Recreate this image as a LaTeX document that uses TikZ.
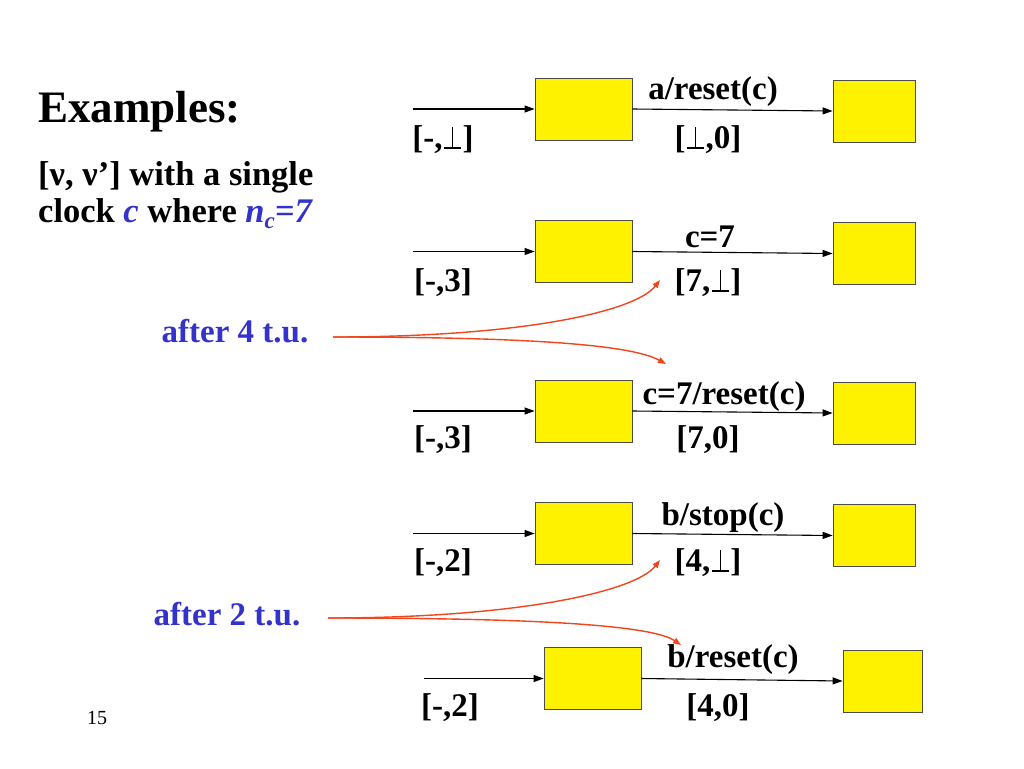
\documentclass[tikz,border=0pt]{standalone}
\usepackage{fontspec}
\setmainfont{Liberation Serif}
\usetikzlibrary{positioning, arrows.meta, calc}
\definecolor{slideblue}{RGB}{51,51,204}
\definecolor{hintred}{RGB}{240,70,30}
\newcommand{\undef}{\hspace{0.04em}\makebox[0.52em][l]{\rlap{\rule{0.52em}{0.045em}}\hspace{0.2375em}\rule{0.045em}{0.66em}}\hspace{0.04em}}

\begin{document}
\begin{tikzpicture}[x=1pt, y=-1pt,
    state/.style={draw=black!70, fill=yellow, line width=0.8pt, minimum width=97pt, minimum height=62pt, inner sep=0},
    target/.style={state, minimum width=82pt},
    edge/.style={line width=1.1pt, -{Triangle[length=10pt, width=7pt]}},
    hint/.style={line width=1.4pt, hintred, -{Triangle[length=8pt, width=6pt]}},
    lbl/.style={font=\fontsize{33}{36}\selectfont\bfseries, inner sep=0}]
    \fill[white] (0,0) rectangle (1024,768);
    \useasboundingbox (0,0) rectangle (1024,768);
    % Heading
    \node[anchor=base west, inner sep=0, font=\fontsize{45}{50}\selectfont\bfseries] (title) at (38,122) {Examples:};
    \node[lbl, font=\fontsize{34.5}{38}\selectfont\bfseries, anchor=base west] (intro1) at (38,185) {[ν, ν’] with a single};
    \node[lbl, font=\fontsize{34.5}{38}\selectfont\bfseries, anchor=base west] (intro2) at (38,222) {clock \textcolor{slideblue}{\textit{c}} where \textcolor{slideblue}{\textit{n}\raisebox{-6pt}{\fontsize{23}{23}\selectfont\textit{c}}\textit{=7}}};
    % a/reset(c)
    \node[state] (s1) at (583.5,109) {};
    \node[target] (t1) at (874,111) {};
    \coordinate[left=122pt of s1.west] (in1);
    \draw[edge] (in1) -- (s1.west);
    \draw[edge] (s1.east) -- (t1.west);
    \node[lbl] (e1) at (713,92) {a/reset(c)};
    \node[lbl] (v1) at (443,140) {[-,\undef]};
    \node[lbl] (w1) at (708,140) {[\undef,0]};
    % c=7
    \node[state] (s2) at (583.5,251.5) {};
    \node[target] (t2) at (874,253.5) {};
    \coordinate[left=122pt of s2.west] (in2);
    \draw[edge] (in2) -- (s2.west);
    \draw[edge] (s2.east) -- (t2.west);
    \node[lbl] (e2) at (710,237) {c=7};
    \node[lbl] (v2) at (443,283) {[-,3]};
    \node[lbl] (w2) at (708,283) {[7,\undef]};
    % c=7/reset(c)
    \node[state] (s3) at (583.5,411) {};
    \node[target] (t3) at (874,413) {};
    \coordinate[left=122pt of s3.west] (in3);
    \draw[edge] (in3) -- (s3.west);
    \draw[edge] (s3.east) -- (t3.west);
    \node[lbl] (e3) at (724,397) {c=7/reset(c)};
    \node[lbl] (v3) at (443,440) {[-,3]};
    \node[lbl] (w3) at (708,440) {[7,0]};
    % b/stop(c)
    \node[state] (s4) at (583.5,533.5) {};
    \node[target] (t4) at (874,535.5) {};
    \coordinate[left=122pt of s4.west] (in4);
    \draw[edge] (in4) -- (s4.west);
    \draw[edge] (s4.east) -- (t4.west);
    \node[lbl] (e4) at (723,518) {b/stop(c)};
    \node[lbl] (v4) at (443,563) {[-,2]};
    \node[lbl] (w4) at (708,563) {[4,\undef]};
    % b/reset(c)
    \node[state] (s5) at (592.5,678.5) {};
    \node[target, minimum width=79pt] (t5) at (882.5,681) {};
    \coordinate[left=120pt of s5.west] (in5);
    \draw[edge] (in5) -- (s5.west);
    \draw[edge] (s5.east) -- (t5.west);
    \node[lbl] (e5) at (733,660) {b/reset(c)};
    \node[lbl] (v5) at (450,708) {[-,2]};
    \node[lbl] (w5) at (718,708) {[4,0]};
    % Elapsed time
    \node[lbl, text=slideblue] (after4) at (235,331) {after 4 t.u.};
    \coordinate (from4) at (333,337);
    \coordinate (to4a) at (660,280);
    \coordinate (to4b) at (666,364);
    \draw[hint] (from4) .. controls (520,337) and (635,312) .. (to4a);
    \draw[hint] (from4) .. controls (520,337) and (630,344) .. (to4b);
    \node[lbl, text=slideblue] (after2) at (227,614) {after 2 t.u.};
    \coordinate (from2) at (328,618);
    \coordinate (to2a) at (660,560);
    \coordinate (to2b) at (681,645);
    \draw[hint] (from2) .. controls (515,618) and (635,592) .. (to2a);
    \draw[hint] (from2) .. controls (520,618) and (650,624) .. (to2b);
    \node[font=\fontsize{20}{22}\selectfont, inner sep=0] (page) at (97,718) {15};
\end{tikzpicture}
\end{document}
